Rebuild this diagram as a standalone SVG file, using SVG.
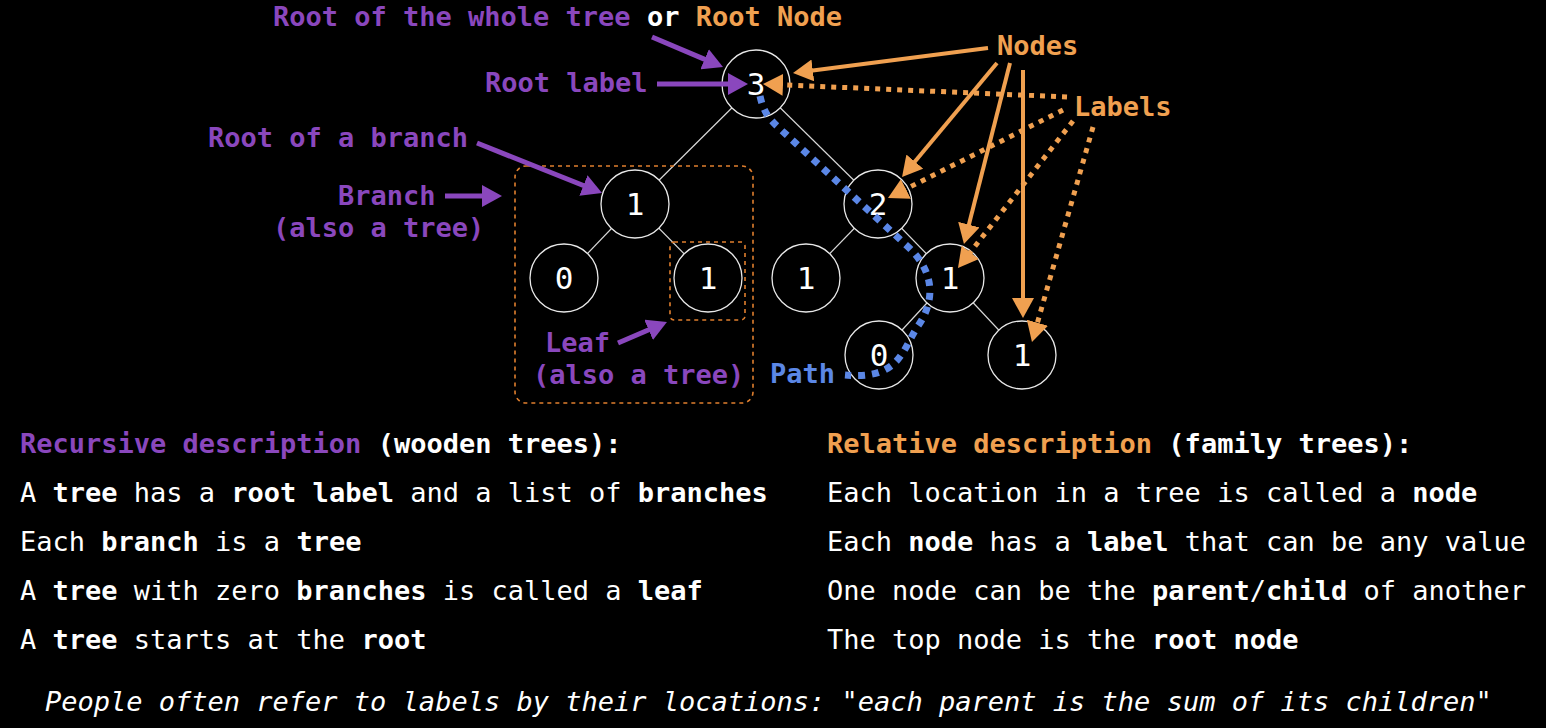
<svg xmlns="http://www.w3.org/2000/svg" width="1546" height="728" viewBox="0 0 1546 728">
<defs>
<style>
text{font-family:"DejaVu Sans Mono","Liberation Mono",monospace;font-size:27px;fill:#fff}
.b{font-weight:bold}
.pu{fill:#8a47bd;font-weight:bold}
.or{fill:#f0a050;font-weight:bold}
.bl{fill:#5b87e6;font-weight:bold}
.num{font-size:31px;text-anchor:middle}
.node circle{fill:#000;stroke:#e8e8e8;stroke-width:1.3}
.edge{stroke:#d8d8d8;stroke-width:1.2}
.parr{stroke:#8a47bd;stroke-width:5;fill:none;marker-end:url(#hp)}
.oarr{stroke:#f0a050;stroke-width:4;fill:none;marker-end:url(#ho)}
.odot{stroke:#f0a050;stroke-width:5;fill:none;stroke-dasharray:5 6;marker-end:url(#ho)}
.box{fill:none;stroke:#e07f2e;stroke-width:1.6;stroke-dasharray:4 4}
</style>
<marker id="hp" viewBox="0 0 20 22" markerUnits="userSpaceOnUse" markerWidth="20" markerHeight="22" refX="6" refY="11" orient="auto"><path d="M0,0 L20,11 L0,22 z" fill="#8a47bd"/></marker>
<marker id="ho" viewBox="0 0 20 22" markerUnits="userSpaceOnUse" markerWidth="20" markerHeight="22" refX="6" refY="11" orient="auto"><path d="M0,0 L20,11 L0,22 z" fill="#f0a050"/></marker>
</defs>
<rect width="1546" height="728" fill="#000"/>
<g id="connectors">
<line class="edge" x1="756" y1="84" x2="635" y2="204"/>
<line class="edge" x1="756" y1="84" x2="878" y2="204"/>
<line class="edge" x1="635" y1="204" x2="564" y2="278"/>
<line class="edge" x1="635" y1="204" x2="708" y2="278"/>
<line class="edge" x1="878" y1="204" x2="806" y2="278"/>
<line class="edge" x1="878" y1="204" x2="950" y2="278"/>
<line class="edge" x1="950" y1="278" x2="879" y2="355"/>
<line class="edge" x1="950" y1="278" x2="1022" y2="355"/>
</g>
<g id="node-3" class="node"><circle cx="756" cy="84" r="34"/><text class="num" x="756" y="95">3</text></g>
<g id="node-1a" class="node"><circle cx="635" cy="204" r="34"/><text class="num" x="635" y="215">1</text></g>
<g id="node-2" class="node"><circle cx="878" cy="204" r="34"/><text class="num" x="878" y="215">2</text></g>
<g id="node-0a" class="node"><circle cx="564" cy="278" r="34"/><text class="num" x="564" y="289">0</text></g>
<g id="node-1b" class="node"><circle cx="708" cy="278" r="34"/><text class="num" x="708" y="289">1</text></g>
<g id="node-1c" class="node"><circle cx="806" cy="278" r="34"/><text class="num" x="806" y="289">1</text></g>
<g id="node-1d" class="node"><circle cx="950" cy="278" r="34"/><text class="num" x="950" y="289">1</text></g>
<g id="node-0b" class="node"><circle cx="879" cy="355" r="34"/><text class="num" x="879" y="366">0</text></g>
<g id="node-1e" class="node"><circle cx="1022" cy="355" r="34"/><text class="num" x="1022" y="366">1</text></g>
<g id="boxes">
<rect class="box" x="515" y="166" width="238" height="237" rx="11"/>
<rect class="box" x="670" y="242" width="75" height="78" rx="4"/>
</g>
<g id="path-annotation">
<path d="M760,96 C763,110 768,118 778,127 L905,244 C935,270 936,300 918,326 C902,350 900,380 845,375" fill="none" stroke="#5b87e6" stroke-width="7" stroke-dasharray="7 7"/>
<text class="bl" x="770" y="383">Path</text>
</g>
<g id="annotations">
<line class="parr" x1="652" y1="37" x2="710.1" y2="61.6"/>
<line class="parr" x1="657" y1="84" x2="734" y2="84"/>
<line class="parr" x1="477" y1="143" x2="589" y2="187.8"/>
<line class="parr" x1="445" y1="196" x2="488" y2="196"/>
<line class="parr" x1="618" y1="343" x2="654.1" y2="327.5"/>
<line class="oarr" x1="988" y1="48" x2="806.9" y2="71.2"/>
<line class="oarr" x1="997" y1="63" x2="911" y2="166.2"/>
<line class="oarr" x1="1010" y1="63" x2="967.4" y2="230.4"/>
<line class="oarr" x1="1023" y1="70" x2="1023" y2="304"/>
<line class="odot" x1="1067" y1="97" x2="777" y2="84.6"/>
<line class="odot" x1="1063" y1="110" x2="900.5" y2="191.7"/>
<line class="odot" x1="1073" y1="121" x2="966.6" y2="257"/>
<line class="odot" x1="1093" y1="127" x2="1035.8" y2="328.5"/>
<text x="273" y="26"><tspan class="pu">Root of the whole tree</tspan><tspan class="b"> or </tspan><tspan class="or">Root Node</tspan></text>
<text class="pu" x="485" y="92">Root label</text>
<text class="pu" x="208" y="147">Root of a branch</text>
<text class="pu" x="338" y="205">Branch</text>
<text class="pu" x="273" y="237">(also a tree)</text>
<text class="pu" x="545" y="352">Leaf</text>
<text class="pu" x="533" y="384">(also a tree)</text>
<text class="or" x="997" y="55">Nodes</text>
<text class="or" x="1074" y="116">Labels</text>
</g>
<g id="descriptions">
<text x="20" y="453"><tspan class="pu">Recursive description</tspan><tspan class="b"> (wooden trees):</tspan></text>
<text x="20" y="502">A <tspan class="b">tree</tspan> has a <tspan class="b">root label</tspan> and a list of <tspan class="b">branches</tspan></text>
<text x="20" y="551">Each <tspan class="b">branch</tspan> is a <tspan class="b">tree</tspan></text>
<text x="20" y="600">A <tspan class="b">tree</tspan> with zero <tspan class="b">branches</tspan> is called a <tspan class="b">leaf</tspan></text>
<text x="20" y="649">A <tspan class="b">tree</tspan> starts at the <tspan class="b">root</tspan></text>
<text x="827" y="453"><tspan class="or">Relative description</tspan><tspan class="b"> (family trees):</tspan></text>
<text x="827" y="502">Each location in a tree is called a <tspan class="b">node</tspan></text>
<text x="827" y="551">Each <tspan class="b">node</tspan> has a <tspan class="b">label</tspan> that can be any value</text>
<text x="827" y="600">One node can be the <tspan class="b">parent</tspan>/<tspan class="b">child</tspan> of another</text>
<text x="827" y="649">The top node is the <tspan class="b">root node</tspan></text>
<text x="45" y="711" font-style="italic">People often refer to labels by their locations: "<tspan>each parent is the sum of its children</tspan>"</text>
</g>
</svg>
